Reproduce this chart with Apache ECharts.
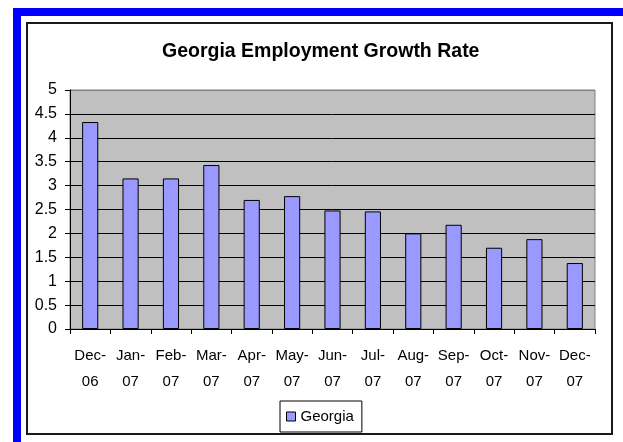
<!DOCTYPE html>
<html>
<head>
<meta charset="utf-8">
<script src="https://cdn.jsdelivr.net/npm/echarts@6/dist/echarts.min.js"></script>
<style>
  html, body { margin: 0; padding: 0; background: #fff; }
  #chart { width: 623px; height: 442px; }
</style>
</head>
<body>
<div id="chart"></div>
<script>
// Monthly employment growth rate for Georgia, Dec 2006 – Dec 2007
const months = ['Dec-06', 'Jan-07', 'Feb-07', 'Mar-07', 'Apr-07', 'May-07', 'Jun-07',
                'Jul-07', 'Aug-07', 'Sep-07', 'Oct-07', 'Nov-07', 'Dec-07'];
const georgia = [4.33, 3.15, 3.15, 3.43, 2.70, 2.78, 2.48, 2.46, 2.00, 2.18, 1.70, 1.88, 1.38];
const seriesName = 'Georgia';
const chartTitle = 'Georgia Employment Growth Rate';

const FONT = '"Liberation Sans", Arial, Helvetica, sans-serif';

// black gridlines, with the top one matching the grey plot border
const gridColors = [];
for (let i = 0; i < 10; i++) gridColors.push('#000');
gridColors.push('#808080');

const chart = echarts.init(document.getElementById('chart'), null, { renderer: 'canvas' });

chart.setOption({
  backgroundColor: '#fff',
  animation: false,
  graphic: [
    // outer blue frame
    { type: 'rect', silent: true, shape: { x: 17, y: 12, width: 610, height: 440 },
      style: { fill: null, stroke: '#0000ff', lineWidth: 8 } },
    // chart area border
    { type: 'rect', silent: true, shape: { x: 27, y: 23, width: 585, height: 411 },
      style: { fill: null, stroke: '#1a1a1a', lineWidth: 2 } }
  ],
  title: {
    text: chartTitle,
    left: 162,
    top: 42,
    padding: 0,
    textStyle: { fontFamily: FONT, fontSize: 19.5, fontWeight: 'bold', color: '#000' }
  },
  grid: {
    left: 70, right: 28, top: 90, bottom: 113,
    show: true, backgroundColor: '#c0c0c0', borderColor: '#808080', borderWidth: 1
  },
  legend: {
    data: [seriesName],
    left: 280, top: 401,
    padding: [8, 8, 8, 6],
    borderColor: '#000', borderWidth: 1,
    backgroundColor: '#fff',
    icon: 'rect', itemWidth: 9, itemHeight: 9,
    itemStyle: { borderColor: '#000', borderWidth: 1 },
    textStyle: { fontFamily: FONT, fontSize: 15, color: '#000' }
  },
  xAxis: {
    type: 'category',
    data: months,
    axisLine: { lineStyle: { color: '#000', width: 1 } },
    axisTick: { show: true, length: 5, lineStyle: { color: '#000' } },
    axisLabel: {
      interval: 0, margin: 14,
      fontFamily: FONT, fontSize: 15, color: '#000', lineHeight: 26,
      formatter: v => v.replace('-', '-\n')
    }
  },
  yAxis: {
    type: 'value',
    min: 0, max: 5, interval: 0.5,
    axisLine: { show: true, lineStyle: { color: '#000', width: 1 } },
    axisTick: { show: true, length: 5, lineStyle: { color: '#000' } },
    axisLabel: { margin: 13, fontFamily: FONT, fontSize: 16, color: '#000' },
    splitLine: { show: true, lineStyle: { color: gridColors, width: 1 } }
  },
  series: [{
    name: seriesName,
    type: 'bar',
    data: georgia,
    barCategoryGap: '60%',
    itemStyle: { color: '#9999ff', borderColor: '#000', borderWidth: 1 }
  }]
});
</script>
</body>
</html>
